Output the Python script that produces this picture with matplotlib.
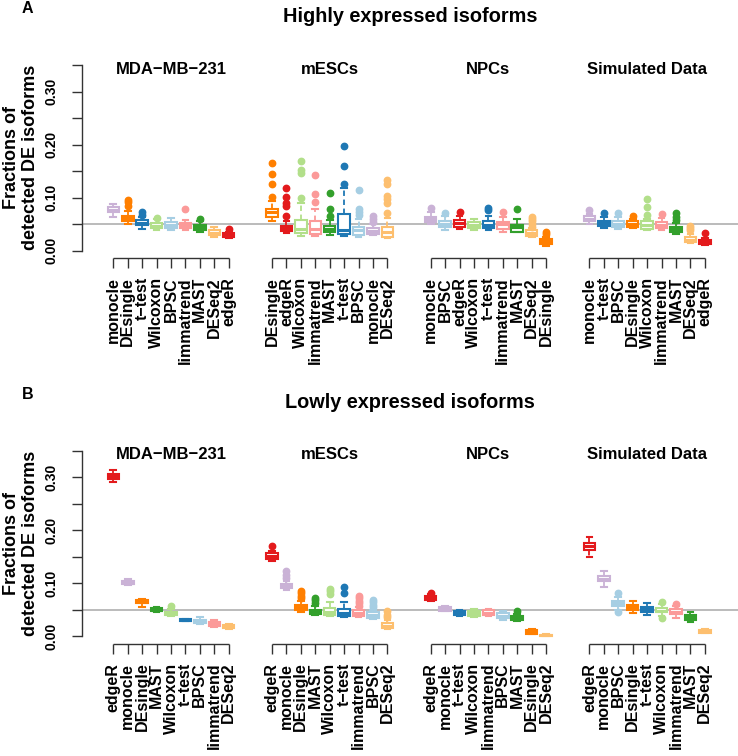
import matplotlib
matplotlib.use("Agg")
import matplotlib.pyplot as plt
import matplotlib.transforms as mtransforms

plt.rcParams['font.family'] = ['Liberation Sans', 'DejaVu Sans']

W, H = 738, 756
DPI = 100

COLORS = {
    'BPSC': '#A6CEE3', 't\u2212test': '#1F78B4', 'Wilcoxon': '#B2DF8A',
    'MAST': '#33A02C', 'limmatrend': '#FB9A99', 'edgeR': '#E31A1C',
    'DESeq2': '#FDBF6F', 'DEsingle': '#FF7F00', 'monocle': '#CAB2D6',
}

group_titles = ['MDA\u2212MB\u2212231', 'mESCs', 'NPCs', 'Simulated Data']
panel_titles = ['Highly expressed isoforms', 'Lowly expressed isoforms']
panel_letters = ['A', 'B']

# ---------------- Panel A : highly expressed ----------------
A_MDA_methods = ['monocle', 'DEsingle', 't\u2212test', 'Wilcoxon', 'BPSC', 'limmatrend', 'MAST', 'DESeq2', 'edgeR']
A_MDA_stats = [(0.064, 0.072, 0.077, 0.082, 0.088), (0.051, 0.056, 0.061, 0.066, 0.075),
               (0.041, 0.049, 0.053, 0.057, 0.063), (0.039, 0.042, 0.047, 0.052, 0.060),
               (0.039, 0.043, 0.049, 0.054, 0.061), (0.038, 0.043, 0.048, 0.052, 0.058),
               (0.036, 0.039, 0.044, 0.049, 0.056), (0.025, 0.029, 0.0335, 0.038, 0.044),
               (0.023, 0.025, 0.029, 0.033, 0.036)]
A_MDA_out = [[], [0.085, 0.092, 0.096], [0.068, 0.073], [0.062], [], [0.079], [0.060], [], [0.040]]

A_mESC_methods = ['DEsingle', 'edgeR', 'Wilcoxon', 'limmatrend', 'MAST', 't\u2212test', 'BPSC', 'monocle', 'DESeq2']
A_mESC_stats = [(0.056, 0.063, 0.072, 0.078, 0.093), (0.0335, 0.037, 0.042, 0.047, 0.055),
                (0.027, 0.033, 0.041, 0.058, 0.090), (0.028, 0.032, 0.041, 0.055, 0.079),
                (0.030, 0.035, 0.041, 0.047, 0.058), (0.028, 0.032, 0.038, 0.070, 0.118),
                (0.0265, 0.030, 0.038, 0.0455, 0.060), (0.030, 0.032, 0.0365, 0.042, 0.050),
                (0.023, 0.0265, 0.035, 0.044, 0.061)]
A_mESC_out = [[0.102, 0.125, 0.145, 0.166], [0.066, 0.085, 0.090, 0.101, 0.118],
              [0.099, 0.147, 0.152, 0.169], [0.092, 0.106, 0.143],
              [0.066, 0.078, 0.109], [0.125, 0.160, 0.197],
              [0.068, 0.073, 0.079, 0.115], [0.054, 0.060, 0.065],
              [0.071, 0.090, 0.097, 0.104, 0.126, 0.133]]

A_NPC_methods = ['monocle', 'BPSC', 'edgeR', 'Wilcoxon', 't\u2212test', 'limmatrend', 'MAST', 'DESeq2', 'DEsingle']
A_NPC_stats = [(0.0505, 0.054, 0.059, 0.064, 0.073), (0.039, 0.0455, 0.0505, 0.055, 0.066),
               (0.040, 0.0455, 0.052, 0.057, 0.066), (0.039, 0.043, 0.048, 0.054, 0.060),
               (0.039, 0.043, 0.049, 0.0555, 0.066), (0.036, 0.041, 0.050, 0.054, 0.063),
               (0.035, 0.036, 0.044, 0.049, 0.060), (0.0265, 0.028, 0.034, 0.039, 0.043),
               (0.0095, 0.0126, 0.0177, 0.0215, 0.0265)]
A_NPC_out = [[0.080], [0.071], [0.073], [], [0.076, 0.080], [0.073], [0.078],
             [0.0455, 0.0505, 0.055, 0.059, 0.063], [0.032, 0.036]]

A_SIM_methods = ['monocle', 't\u2212test', 'BPSC', 'DEsingle', 'Wilcoxon', 'limmatrend', 'MAST', 'DESeq2', 'edgeR']
A_SIM_stats = [(0.0505, 0.055, 0.060, 0.065, 0.0695), (0.042, 0.047, 0.052, 0.0556, 0.063),
               (0.040, 0.044, 0.0505, 0.0556, 0.064), (0.043, 0.0455, 0.0505, 0.0556, 0.060),
               (0.038, 0.041, 0.049, 0.055, 0.060), (0.039, 0.043, 0.049, 0.054, 0.061),
               (0.032, 0.035, 0.040, 0.044, 0.052), (0.014, 0.016, 0.020, 0.025, 0.032),
               (0.011, 0.0126, 0.0164, 0.020, 0.024)]
A_SIM_out = [[0.077], [0.071], [0.071], [0.066], [0.068, 0.082, 0.098], [0.0695],
             [0.057, 0.063, 0.071], [0.038, 0.043, 0.047], [0.033]]

# ---------------- Panel B : lowly expressed ----------------
B_MDA_methods = ['edgeR', 'monocle', 'DEsingle', 'MAST', 'Wilcoxon', 't\u2212test', 'BPSC', 'limmatrend', 'DESeq2']
B_MDA_stats = [(0.291, 0.298, 0.302, 0.306, 0.314), (0.096, 0.098, 0.101, 0.1045, 0.108),
               (0.056, 0.062, 0.0655, 0.069, 0.0705), (0.045, 0.047, 0.050, 0.0535, 0.055),
               (0.038, 0.040, 0.043, 0.0465, 0.052), (0.0285, 0.0295, 0.031, 0.0325, 0.0335),
               (0.023, 0.025, 0.028, 0.0315, 0.036), (0.017, 0.020, 0.024, 0.027, 0.0315),
               (0.0145, 0.0165, 0.019, 0.022, 0.024)]
B_MDA_out = [[], [], [], [], [0.057], [], [], [], []]

B_mESC_methods = ['edgeR', 'monocle', 'DEsingle', 'MAST', 'Wilcoxon', 't\u2212test', 'limmatrend', 'BPSC', 'DESeq2']
B_mESC_stats = [(0.142, 0.146, 0.151, 0.157, 0.162), (0.0875, 0.091, 0.095, 0.099, 0.105),
                (0.045, 0.050, 0.055, 0.0585, 0.067), (0.040, 0.042, 0.045, 0.050, 0.058),
                (0.038, 0.040, 0.0465, 0.053, 0.064), (0.037, 0.039, 0.044, 0.051, 0.064),
                (0.036, 0.038, 0.044, 0.050, 0.055), (0.033, 0.035, 0.040, 0.045, 0.050),
                (0.014, 0.016, 0.020, 0.025, 0.030)]
B_mESC_out = [[0.170], [0.111, 0.116, 0.124], [0.0725, 0.077, 0.081, 0.086], [0.062, 0.069, 0.073],
              [0.080, 0.086, 0.089], [0.081, 0.094], [0.057, 0.062, 0.067, 0.072, 0.076],
              [0.055, 0.060, 0.064, 0.069], [0.036, 0.041, 0.047]]

B_NPC_methods = ['edgeR', 'monocle', 't\u2212test', 'Wilcoxon', 'limmatrend', 'BPSC', 'MAST', 'DEsingle', 'DESeq2']
B_NPC_stats = [(0.067, 0.069, 0.073, 0.077, 0.079), (0.047, 0.0485, 0.0515, 0.0545, 0.0565),
               (0.039, 0.040, 0.044, 0.047, 0.050), (0.037, 0.039, 0.0435, 0.0485, 0.0515),
               (0.038, 0.040, 0.044, 0.0495, 0.052), (0.031, 0.035, 0.039, 0.0435, 0.047),
               (0.028, 0.031, 0.035, 0.039, 0.042), (0.0035, 0.0045, 0.0083, 0.012, 0.014),
               (0.000, 0.0005, 0.0015, 0.003, 0.0045)]
B_NPC_out = [[0.082], [], [], [], [], [], [0.047], [], []]

B_SIM_methods = ['edgeR', 'monocle', 'BPSC', 'DEsingle', 't\u2212test', 'Wilcoxon', 'limmatrend', 'MAST', 'DESeq2']
B_SIM_stats = [(0.150, 0.163, 0.1705, 0.177, 0.188), (0.094, 0.104, 0.109, 0.1145, 0.1225),
               (0.050, 0.0565, 0.062, 0.066, 0.0735), (0.044, 0.050, 0.0545, 0.060, 0.066),
               (0.040, 0.0465, 0.0515, 0.056, 0.062), (0.039, 0.045, 0.0485, 0.053, 0.061),
               (0.035, 0.042, 0.0465, 0.0515, 0.058), (0.027, 0.031, 0.036, 0.040, 0.045),
               (0.0057, 0.0064, 0.0096, 0.012, 0.014)]
B_SIM_out = [[], [], [0.045, 0.081], [], [], [0.035, 0.064], [0.061], [], []]

PANELS = [
    [(A_MDA_methods, A_MDA_stats, A_MDA_out), (A_mESC_methods, A_mESC_stats, A_mESC_out),
     (A_NPC_methods, A_NPC_stats, A_NPC_out), (A_SIM_methods, A_SIM_stats, A_SIM_out)],
    [(B_MDA_methods, B_MDA_stats, B_MDA_out), (B_mESC_methods, B_mESC_stats, B_mESC_out),
     (B_NPC_methods, B_NPC_stats, B_NPC_out), (B_SIM_methods, B_SIM_stats, B_SIM_out)],
]

fig = plt.figure(figsize=(W / DPI, H / DPI), dpi=DPI)

# layout in pixels
ax_left, ax_right = 82, 738
ax_top0, ax_bot0 = 57.9, 258.0
panel_shift = 385.7

FS_TICK = 11.5
FS_Y = 10
BOLD = 'bold'

for p, groups in enumerate(PANELS):
    off = p * panel_shift
    top = ax_top0 + off
    bot = ax_bot0 + off
    ax = fig.add_axes([ax_left / W, 1 - bot / H, (ax_right - ax_left) / W, (bot - top) / H])
    ax.set_xlim(-1.17, 44.3)
    ax.set_ylim(-0.014, 0.364)
    ax.axhline(0.05, color='#a8a8a8', lw=1.1, zorder=0)

    xticks, xlabels = [], []
    trans = mtransforms.blended_transform_factory(ax.transData, ax.transAxes)
    for g, (methods, stats, outs) in enumerate(groups):
        pos0 = 1 + 11 * g
        for i, m in enumerate(methods):
            lo, q1, med, q3, hi = stats[i]
            c = COLORS[m]
            st = [dict(whislo=lo, q1=q1, med=med, q3=q3, whishi=hi, fliers=outs[i])]
            ax.bxp(st, positions=[pos0 + i], widths=0.8, capwidths=0.4,
                   patch_artist=True, manage_ticks=False,
                   boxprops=dict(facecolor='white', edgecolor=c, linewidth=1.5),
                   medianprops=dict(color=c, linewidth=2.2, solid_capstyle='butt'),
                   whiskerprops=dict(color=c, linewidth=1.3, linestyle=(0, (3, 2))),
                   capprops=dict(color=c, linewidth=1.5),
                   flierprops=dict(marker='o', markerfacecolor=c, markeredgecolor=c,
                                   markersize=4.6, linestyle='none'))
            xticks.append(pos0 + i)
            xlabels.append(m)
        # group x-axis line
        ax.plot([pos0, pos0 + 8], [0, 0], transform=trans, color='#333333', lw=1.0,
                clip_on=False, solid_capstyle='butt')
        ax.text(pos0 + 4, 0.343, group_titles[g], ha='center', va='center',
                fontsize=12, fontweight=BOLD)

    ax.set_xticks(xticks)
    ax.set_xticklabels(xlabels, rotation=90, fontsize=FS_TICK, fontweight=BOLD)
    ax.tick_params(axis='x', length=7.2, width=1.0, color='#333333', pad=6.5)

    yt = [0.0, 0.05, 0.10, 0.15, 0.20, 0.25, 0.30, 0.35]
    ax.set_yticks(yt)
    ax.set_yticklabels(['0.00', '', '0.10', '', '0.20', '', '0.30', ''],
                       fontsize=FS_Y, fontweight=BOLD)
    for lab in ax.get_yticklabels():
        lab.set_rotation(90)
        lab.set_va('center')
        lab.set_ha('right')
    ax.tick_params(axis='y', length=7.2, width=1.0, color='#333333', pad=10)

    for s in ['top', 'right', 'bottom']:
        ax.spines[s].set_visible(False)
    ax.spines['left'].set_bounds(0, 0.35)
    ax.spines['left'].set_linewidth(1.0)
    ax.spines['left'].set_color('#333333')

    # y label
    fig.text(21 / W, 1 - (157.5 + off) / H, 'Fractions of\ndetected DE isoforms',
             rotation=90, ha='center', va='center', fontsize=13, fontweight=BOLD,
             linespacing=1.2)
    # panel title
    fig.text(410 / W, 1 - (17 + off) / H, panel_titles[p], ha='center', va='center',
             fontsize=14.3, fontweight=BOLD)
    fig.text(27.5 / W, 1 - (8.5 + off) / H, panel_letters[p], ha='center', va='center',
             fontsize=11.5, fontweight=BOLD)

fig.savefig('out.png', dpi=DPI)
